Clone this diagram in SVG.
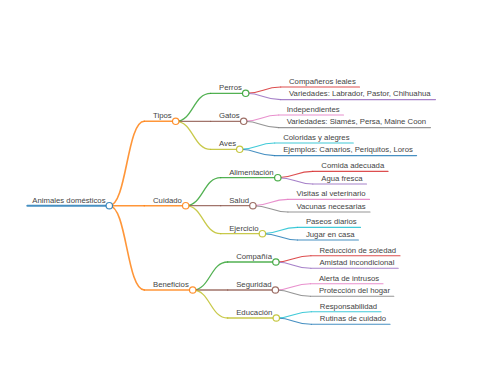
<svg xmlns="http://www.w3.org/2000/svg" width="480" height="384" viewBox="0 0 480 384">
<style>
text{font-family:"Liberation Sans",Arial,sans-serif;font-size:7.75px;fill:#444}
path{fill:none;stroke-linecap:round;stroke-opacity:.82}
circle{fill:#fff;stroke-width:1.2;stroke-opacity:.85}
.d0{stroke-width:2}
.d1{stroke-width:1.6}
.d2{stroke-width:1.3}
.d3{stroke-width:1.1}
.blue{stroke:#1f77b4}.orange{stroke:#ff7f0e}.green{stroke:#2ca02c}.red{stroke:#d62728}.purple{stroke:#9467bd}
.brown{stroke:#8c564b}.pink{stroke:#e377c2}.gray{stroke:#7f7f7f}.olive{stroke:#bcbd22}.cyan{stroke:#17becf}
</style>
<rect width="480" height="384" fill="#fff"/>
<g id="connectors">
<path class="d1 orange" d="M109.3,205.7 C126.8,205.7 126.8,121.3 144.3,121.3"/>
<path class="d1 orange" d="M109.3,205.7 H144.3"/>
<path class="d1 orange" d="M109.3,205.7 C126.8,205.7 126.8,290 144.3,290"/>
<path class="d2 green" d="M175.7,121.3 C193.2,121.3 193.2,93.3 210.7,93.3"/>
<path class="d2 brown" d="M175.7,121.3 H210.7"/>
<path class="d2 olive" d="M175.7,121.3 C193.2,121.3 193.2,149.3 210.7,149.3"/>
<path class="d3 red" d="M245.7,93.3 C263.2,93.3 263.2,87 280.7,87"/>
<path class="d3 purple" d="M245.7,93.3 C263.2,93.3 263.2,99.6 280.7,99.6"/>
<path class="d3 pink" d="M243.7,121.3 C261.2,121.3 261.2,115 278.7,115"/>
<path class="d3 gray" d="M243.7,121.3 C261.2,121.3 261.2,127.6 278.7,127.6"/>
<path class="d3 cyan" d="M239.7,149.3 C257.2,149.3 257.2,143 274.7,143"/>
<path class="d3 blue" d="M239.7,149.3 C257.2,149.3 257.2,155.6 274.7,155.6"/>
<path class="d2 green" d="M185.7,205.7 C203.2,205.7 203.2,177.7 220.7,177.7"/>
<path class="d2 brown" d="M185.7,205.7 H220.7"/>
<path class="d2 olive" d="M185.7,205.7 C203.2,205.7 203.2,233.7 220.7,233.7"/>
<path class="d3 red" d="M277.8,177.7 C295.3,177.7 295.3,171.4 312.8,171.4"/>
<path class="d3 purple" d="M277.8,177.7 C295.3,177.7 295.3,184 312.8,184"/>
<path class="d3 pink" d="M252.9,205.7 C270.4,205.7 270.4,199.4 287.9,199.4"/>
<path class="d3 gray" d="M252.9,205.7 C270.4,205.7 270.4,212 287.9,212"/>
<path class="d3 cyan" d="M262.4,233.7 C279.9,233.7 279.9,227.4 297.4,227.4"/>
<path class="d3 blue" d="M262.4,233.7 C279.9,233.7 279.9,240 297.4,240"/>
<path class="d2 green" d="M192.7,290 C210.2,290 210.2,262 227.7,262"/>
<path class="d2 brown" d="M192.7,290 H227.7"/>
<path class="d2 olive" d="M192.7,290 C210.2,290 210.2,318 227.7,318"/>
<path class="d3 red" d="M275.9,262 C293.4,262 293.4,255.7 310.9,255.7"/>
<path class="d3 purple" d="M275.9,262 C293.4,262 293.4,268.3 310.9,268.3"/>
<path class="d3 pink" d="M275.4,290 C292.9,290 292.9,283.7 310.4,283.7"/>
<path class="d3 gray" d="M275.4,290 C292.9,290 292.9,296.3 310.4,296.3"/>
<path class="d3 cyan" d="M276.3,318 C293.8,318 293.8,311.7 311.3,311.7"/>
<path class="d3 blue" d="M276.3,318 C293.8,318 293.8,324.3 311.3,324.3"/>
</g>
<g id="root"><path class="d0 blue" d="M27.3,205.7 H109.3"/><circle class="blue" cx="109.3" cy="205.7" r="3.2"/><text x="32.3" y="202.5">Animales domésticos</text></g>
<g id="tipos"><path class="d1 orange" d="M144.3,121.3 H175.7"/><circle class="orange" cx="175.7" cy="121.3" r="3.2"/><text x="153" y="118.1">Tipos</text></g>
<g id="cuidado"><path class="d1 orange" d="M144.3,205.7 H185.7"/><circle class="orange" cx="185.7" cy="205.7" r="3.2"/><text x="153" y="202.5">Cuidado</text></g>
<g id="beneficios"><path class="d1 orange" d="M144.3,290 H192.7"/><circle class="orange" cx="192.7" cy="290" r="3.2"/><text x="153" y="286.8">Beneficios</text></g>
<g id="perros"><path class="d2 green" d="M210.7,93.3 H245.7"/><circle class="green" cx="245.7" cy="93.3" r="3.2"/><text x="219" y="90.1">Perros</text></g>
<g id="gatos"><path class="d2 brown" d="M210.7,121.3 H243.7"/><circle class="brown" cx="243.7" cy="121.3" r="3.2"/><text x="219" y="118.1">Gatos</text></g>
<g id="aves"><path class="d2 olive" d="M210.7,149.3 H239.7"/><circle class="olive" cx="239.7" cy="149.3" r="3.2"/><text x="219" y="146.1">Aves</text></g>
<g id="perros-1"><path class="d3 red" d="M280.7,87 H359.5"/><text x="289" y="83.8">Compañeros leales</text></g>
<g id="perros-2"><path class="d3 purple" d="M280.7,99.6 H435.5"/><text x="289" y="96.4">Variedades: Labrador, Pastor, Chihuahua</text></g>
<g id="gatos-1"><path class="d3 pink" d="M278.7,115 H343.5"/><text x="286.7" y="111.8">Independientes</text></g>
<g id="gatos-2"><path class="d3 gray" d="M278.7,127.6 H430.5"/><text x="286.7" y="124.4">Variedades: Siamés, Persa, Maine Coon</text></g>
<g id="aves-1"><path class="d3 cyan" d="M274.7,143 H353.3"/><text x="283.2" y="139.8">Coloridas y alegres</text></g>
<g id="aves-2"><path class="d3 blue" d="M274.7,155.6 H416.6"/><text x="283.2" y="152.4">Ejemplos: Canarios, Periquitos, Loros</text></g>
<g id="alimentacion"><path class="d2 green" d="M220.7,177.7 H277.8"/><circle class="green" cx="277.8" cy="177.7" r="3.2"/><text x="229.2" y="174.5">Alimentación</text></g>
<g id="salud"><path class="d2 brown" d="M220.7,205.7 H252.9"/><circle class="brown" cx="252.9" cy="205.7" r="3.2"/><text x="229.2" y="202.5">Salud</text></g>
<g id="ejercicio"><path class="d2 olive" d="M220.7,233.7 H262.4"/><circle class="olive" cx="262.4" cy="233.7" r="3.2"/><text x="229.2" y="230.5">Ejercicio</text></g>
<g id="alimentacion-1"><path class="d3 red" d="M312.8,171.4 H388"/><text x="321.3" y="168.2">Comida adecuada</text></g>
<g id="alimentacion-2"><path class="d3 purple" d="M312.8,184 H366.5"/><text x="321.3" y="180.8">Agua fresca</text></g>
<g id="salud-1"><path class="d3 pink" d="M287.9,199.4 H369.5"/><text x="296.4" y="196.2">Visitas al veterinario</text></g>
<g id="salud-2"><path class="d3 gray" d="M287.9,212 H370"/><text x="296.4" y="208.8">Vacunas necesarias</text></g>
<g id="ejercicio-1"><path class="d3 cyan" d="M297.4,227.4 H360.5"/><text x="305.9" y="224.2">Paseos diarios</text></g>
<g id="ejercicio-2"><path class="d3 blue" d="M297.4,240 H358.4"/><text x="305.9" y="236.8">Jugar en casa</text></g>
<g id="compania"><path class="d2 green" d="M227.7,262 H275.9"/><circle class="green" cx="275.9" cy="262" r="3.2"/><text x="236.2" y="258.8">Compañía</text></g>
<g id="seguridad"><path class="d2 brown" d="M227.7,290 H275.4"/><circle class="brown" cx="275.4" cy="290" r="3.2"/><text x="236.2" y="286.8">Seguridad</text></g>
<g id="educacion"><path class="d2 olive" d="M227.7,318 H276.3"/><circle class="olive" cx="276.3" cy="318" r="3.2"/><text x="236.2" y="314.8">Educación</text></g>
<g id="compania-1"><path class="d3 red" d="M310.9,255.7 H400"/><text x="319.4" y="252.5">Reducción de soledad</text></g>
<g id="compania-2"><path class="d3 purple" d="M310.9,268.3 H398.2"/><text x="319.4" y="265.1">Amistad incondicional</text></g>
<g id="seguridad-1"><path class="d3 pink" d="M310.4,283.7 H383"/><text x="318.9" y="280.5">Alerta de intrusos</text></g>
<g id="seguridad-2"><path class="d3 gray" d="M310.4,296.3 H393.8"/><text x="318.9" y="293.1">Protección del hogar</text></g>
<g id="educacion-1"><path class="d3 cyan" d="M311.3,311.7 H381"/><text x="319.8" y="308.5">Responsabilidad</text></g>
<g id="educacion-2"><path class="d3 blue" d="M311.3,324.3 H390"/><text x="319.8" y="321.1">Rutinas de cuidado</text></g>
</svg>
